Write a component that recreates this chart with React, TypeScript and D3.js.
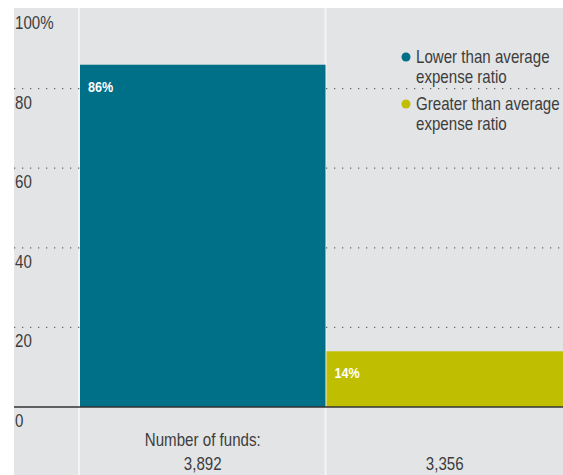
import React from "react";
import * as d3 from "d3";

const categories = ["Lower than average expense ratio", "Greater than average expense ratio"];
const shares = [86, 14];
const barLabels = ["86%", "14%"];
const fundCounts = ["3,892", "3,356"];
const colors = ["#006f88", "#bfbe00"];
const yTicks = [0, 20, 40, 60, 80, 100];
const legendLines = [["Lower than average", "expense ratio"], ["Greater than average", "expense ratio"]];

const W = 563;
const H = 475;
const FONT = "'Liberation Sans', Arial, sans-serif";
const NARROW = 0.84;

function T(props: { x: number; y: number; size: number; fill: string; anchor?: string; bold?: boolean; children: React.ReactNode }) {
  return (
    <text
      transform={`translate(${props.x},${props.y}) scale(${NARROW},1)`}
      fill={props.fill}
      fontSize={props.size}
      textAnchor={props.anchor || "start"}
      fontWeight={props.bold ? "bold" : "normal"}
    >
      {props.children}
    </text>
  );
}

export default function App() {
  const y = d3.scaleLinear().domain([0, 100]).range([407, 9]);
  const x = d3.scaleBand<string>().domain(categories).range([79, 572]).paddingInner(0);
  const bw = x.bandwidth();
  const textColor = "#3d3d3d";

  return (
    <svg width={W} height={H} style={{ position: "absolute", left: 0, top: 0 }} fontFamily={FONT}>
      <rect x={0} y={0} width={W} height={H} fill="#ffffff" />
      <rect x={14} y={8} width={W - 14} height={H - 8} fill="#e3e4e6" />
      {categories.map((c) => (
        <line key={c} x1={x(c)!} x2={x(c)!} y1={8} y2={H} stroke="#f4f4f5" strokeWidth={2} />
      ))}
      {yTicks.filter((t) => t > 0 && t < 100).map((t) => (
        <line key={t} x1={14} x2={W} y1={y(t)} y2={y(t)} stroke="#666" strokeWidth={1.2} strokeDasharray="1.3,6.7" />
      ))}
      {categories.map((c, i) => (
        <rect key={c} x={x(c)! + 1} y={y(shares[i])} width={Math.min(bw - 1, W - x(c)! - 1)} height={y(0) - y(shares[i])} fill={colors[i]} />
      ))}
      {categories.map((c, i) => (
        <T key={c} x={x(c)! + 9} y={y(shares[i]) + 27} fill="#ffffff" bold size={15}>
          {barLabels[i]}
        </T>
      ))}
      <line x1={14} x2={W} y1={y(0)} y2={y(0)} stroke="#333" strokeWidth={1.5} />
      {yTicks.map((t) => (
        <T key={t} x={15} y={y(t) + 20} fill={textColor} size={18}>
          {t === 100 ? "100%" : String(t)}
        </T>
      ))}
      {categories.map((c, i) => (
        <g key={c}>
          <circle cx={406} cy={57 + i * 47} r={4.5} fill={colors[i]} />
          <T x={416} y={63 + i * 47} fill={textColor} size={18}>{legendLines[i][0]}</T>
          <T x={416} y={83 + i * 47} fill={textColor} size={18}>{legendLines[i][1]}</T>
        </g>
      ))}
      {categories.map((c, i) => {
        const x0 = x(c)! + 1;
        const x1 = Math.min(x(c)! + bw, W);
        const cx = (x0 + x1) / 2;
        return (
          <g key={c}>
            {i === 0 && (
              <T x={cx} y={446} anchor="middle" fill={textColor} size={18}>Number of funds:</T>
            )}
            <T x={cx} y={470} anchor="middle" fill={textColor} size={18}>{fundCounts[i]}</T>
          </g>
        );
      })}
    </svg>
  );
}
